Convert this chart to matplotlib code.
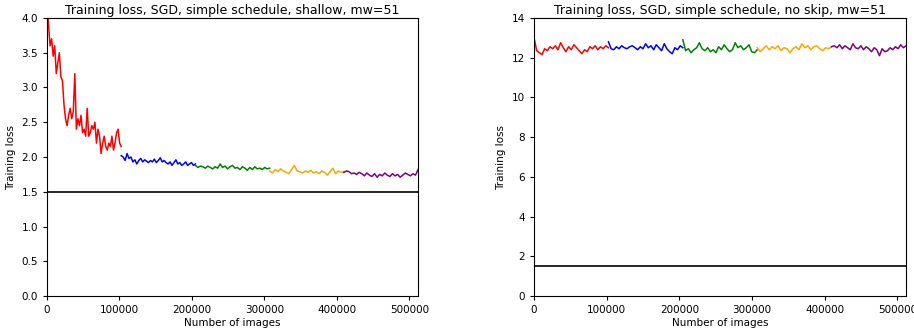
import matplotlib
matplotlib.use("Agg")
import matplotlib.pyplot as plt
import numpy as np

# images per stage of the schedule
stage_len = 102400
n_stages = 5
stage_colors = ["red", "blue", "green", "orange", "purple"]
target_loss = 1.5

# left panel: shallow model, smoothed training loss per stage
shallow_red = [4.3, 3.9, 3.6, 3.7, 3.45, 3.6, 3.2, 3.35, 3.5, 3.15, 3.1, 2.75,
               2.55, 2.45, 2.6, 2.7, 2.55, 2.65, 3.2, 2.4, 2.55, 2.45, 2.6, 2.35,
               2.4, 2.3, 2.7, 2.3, 2.35, 2.45, 2.4, 2.5, 2.2, 2.4, 2.3, 2.05,
               2.2, 2.3, 2.15, 2.1, 2.2, 2.15, 2.3, 2.1, 2.2, 2.35, 2.4, 2.2, 2.15]
shallow_blue = [2.02, 2.0, 1.95, 2.05, 1.98, 2.0, 1.93, 1.96, 1.9, 1.95, 1.98,
                1.93, 1.96, 1.94, 1.92, 1.95, 1.93, 1.97, 1.92, 1.95, 1.99, 1.93,
                1.95, 1.92, 1.9, 1.93, 1.88, 1.92, 1.96, 1.9, 1.92, 1.88, 1.9,
                1.93, 1.88, 1.9, 1.92, 1.88, 1.9]
shallow_green = [1.88, 1.85, 1.87, 1.86, 1.84, 1.87, 1.85, 1.83, 1.86, 1.84, 1.9,
                 1.85, 1.87, 1.83, 1.86, 1.88, 1.84, 1.85, 1.82, 1.86, 1.84, 1.81,
                 1.85, 1.82, 1.86, 1.83, 1.84, 1.82, 1.85, 1.83, 1.84]
shallow_orange = [1.8, 1.77, 1.82, 1.79, 1.83, 1.8, 1.78, 1.76, 1.82, 1.88, 1.8,
                  1.79, 1.77, 1.8, 1.78, 1.81, 1.77, 1.79, 1.76, 1.8, 1.78, 1.74,
                  1.79, 1.84, 1.76, 1.8, 1.78, 1.79]
shallow_purple = [1.78, 1.8, 1.79, 1.76, 1.77, 1.75, 1.78, 1.76, 1.73, 1.77, 1.74,
                  1.72, 1.76, 1.71, 1.75, 1.73, 1.77, 1.74, 1.72, 1.76, 1.73, 1.75,
                  1.71, 1.74, 1.77, 1.75, 1.73, 1.76, 1.74, 1.82]

# right panel: no skip connections
noskip_red = [13.0, 12.35, 12.25, 12.15, 12.45, 12.35, 12.55, 12.45, 12.6, 12.4,
              12.75, 12.5, 12.3, 12.55, 12.4, 12.65, 12.5, 12.35, 12.2, 12.4,
              12.3, 12.55, 12.45, 12.6, 12.4, 12.55, 12.45, 12.6, 12.5]
noskip_blue = [12.8, 12.45, 12.4, 12.55, 12.45, 12.6, 12.5, 12.45, 12.55, 12.6,
               12.5, 12.4, 12.55, 12.45, 12.7, 12.5, 12.6, 12.4, 12.65, 12.5,
               12.35, 12.7, 12.45, 12.3, 12.2, 12.5, 12.4, 12.6, 12.5]
noskip_green = [12.9, 12.35, 12.45, 12.25, 12.4, 12.5, 12.75, 12.45, 12.35,
                12.5, 12.3, 12.4, 12.25, 12.55, 12.4, 12.65, 12.45, 12.3, 12.4,
                12.75, 12.5, 12.6, 12.4, 12.5, 12.65, 12.3, 12.25, 12.4]
noskip_orange = [12.5, 12.3, 12.45, 12.6, 12.4, 12.55, 12.45, 12.6, 12.35,
                 12.5, 12.45, 12.25, 12.45, 12.55, 12.4, 12.7, 12.5, 12.6, 12.4,
                 12.55, 12.6, 12.45, 12.35, 12.5, 12.45, 12.55]
noskip_purple = [12.55, 12.6, 12.5, 12.65, 12.45, 12.6, 12.5, 12.4, 12.7, 12.5,
                 12.45, 12.6, 12.4, 12.55, 12.45, 12.3, 12.5, 12.4, 12.1, 12.45,
                 12.3, 12.35, 12.5, 12.4, 12.55, 12.45, 12.65, 12.5, 12.6]

panels = [
    ("Training loss, SGD, simple schedule, shallow, mw=51",
     [shallow_red, shallow_blue, shallow_green, shallow_orange, shallow_purple],
     (0, 4), np.arange(0, 4.01, 0.5), "{:.1f}"),
    ("Training loss, SGD, simple schedule, no skip, mw=51",
     [noskip_red, noskip_blue, noskip_green, noskip_orange, noskip_purple],
     (0, 14), np.arange(0, 14.1, 2), "{:.0f}"),
]

fig = plt.figure(figsize=(9.14, 3.32), dpi=100)
positions = [[0.0514, 0.108, 0.406, 0.838], [0.5843, 0.108, 0.407, 0.838]]

for pos, (title, stages, ylim, yticks, fmt) in zip(positions, panels):
    ax = fig.add_axes(pos)
    for i, values in enumerate(stages):
        # samples spread evenly over each stage
        x = np.linspace(i * stage_len, (i + 1) * stage_len, len(values))
        ax.plot(x, values, color=stage_colors[i], linewidth=1.1)
    ax.axhline(target_loss, color="black", linewidth=1.2)
    ax.set_xlim(0, n_stages * stage_len)
    ax.set_ylim(*ylim)
    ax.set_yticks(yticks)
    ax.set_yticklabels([fmt.format(t) for t in yticks])
    ax.set_xticks([0, 100000, 200000, 300000, 400000, 500000])
    ax.set_xticklabels(["0", "100000", "200000", "300000", "400000", "500000"])
    ax.tick_params(labelsize=7.5, length=3)
    ax.set_title(title, fontsize=9, pad=3)
    ax.set_xlabel("Number of images", fontsize=7.5, labelpad=2)
    ax.set_ylabel("Training loss", fontsize=7.5)

plt.savefig("out.png", dpi=100)
